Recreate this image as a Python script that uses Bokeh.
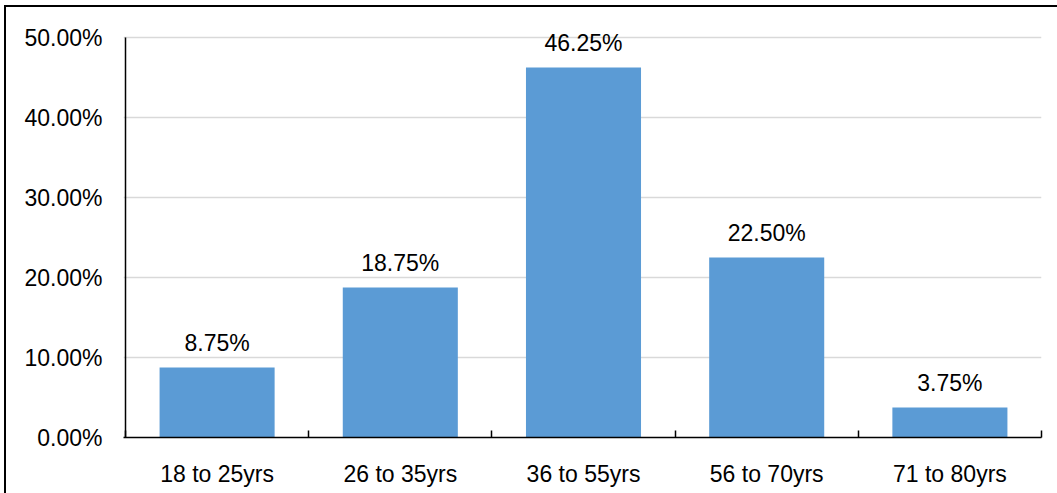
from bokeh.plotting import figure
from bokeh.models import (ColumnDataSource, Range1d, FixedTicker, NumeralTickFormatter, LabelSet)
from bokeh.core.properties import value
from bokeh.embed import file_html
from bokeh.resources import INLINE

categories = ["18 to 25yrs", "26 to 35yrs", "36 to 55yrs", "56 to 70yrs", "71 to 80yrs"]
values = [0.0875, 0.1875, 0.4625, 0.2250, 0.0375]
y_ticks = [0.0, 0.1, 0.2, 0.3, 0.4, 0.5]

FONT = "Liberation Sans"
FS = "23px"

n = len(categories)
xs = [i + 0.5 for i in range(n)]
labels = [f"{v * 100:.2f}%" for v in values]
src = ColumnDataSource(dict(x=xs, top=values, label=labels))

# frame: x 123..1041 px, y 25..437 px ; data x=0 at 125 px, y=0.5 at 37 px
px_per_cat = 916 / n
x_pad = 2 / px_per_cat
y_top = y_ticks[-1] + 12 * (0.1 / 80)

p = figure(frame_width=918, frame_height=412,
           min_border_left=117, min_border_right=16, min_border_top=18, min_border_bottom=56,
           x_range=Range1d(-x_pad, n), y_range=Range1d(0, y_top),
           output_backend="svg", toolbar_location=None, tools="")
p.styles = {"margin-left": "4px", "margin-top": "5px",
            "border-left": "2px solid black", "border-top": "2px solid black"}
p.outline_line_color = None
p.background_fill_color = "white"
p.border_fill_color = "white"

p.xgrid.grid_line_color = None
p.ygrid.ticker = FixedTicker(ticks=y_ticks)
p.ygrid.grid_line_color = "#D9D9D9"
p.ygrid.grid_line_width = 1.5

p.vbar(x="x", top="top", width=0.628, bottom=0, source=src,
       fill_color="#5B9BD5", line_color=None)

# visible y-axis line from 0 to the top tick
p.segment(x0=[0], y0=[y_ticks[0]], x1=[0], y1=[y_ticks[-1]], line_color="black", line_width=1.5)

p.add_layout(LabelSet(x="x", y="top", text="label", source=src,
                      text_align="center", text_baseline="bottom", y_offset=12,
                      text_font=value(FONT), text_font_size=value(FS), text_color="#000000"))

# y axis
p.yaxis.ticker = FixedTicker(ticks=y_ticks)
p.yaxis.formatter = NumeralTickFormatter(format="0.00%")
p.yaxis.major_tick_line_color = None
p.yaxis.minor_tick_line_color = None
p.yaxis.axis_line_color = None
p.yaxis.major_label_text_font = FONT
p.yaxis.major_label_text_font_size = FS
p.yaxis.major_label_text_color = "#000000"
p.yaxis.major_label_standoff = 15

# x axis: labels at category centres, tick marks at boundaries (minor ticks)
p.xaxis.ticker = FixedTicker(ticks=xs, minor_ticks=list(range(n + 1)))
p.xaxis.major_label_overrides = {x: c for x, c in zip(xs, categories)}
p.xaxis.major_tick_line_color = None
p.xaxis.minor_tick_line_color = "black"
p.xaxis.minor_tick_line_width = 1.5
p.xaxis.minor_tick_in = 7
p.xaxis.minor_tick_out = 0
p.xaxis.axis_line_color = "black"
p.xaxis.axis_line_width = 1.5
p.xaxis.major_label_text_font = FONT
p.xaxis.major_label_text_font_size = FS
p.xaxis.major_label_text_color = "#000000"
p.xaxis.major_label_standoff = 17

open("out.html", "w").write(file_html(p, INLINE))
